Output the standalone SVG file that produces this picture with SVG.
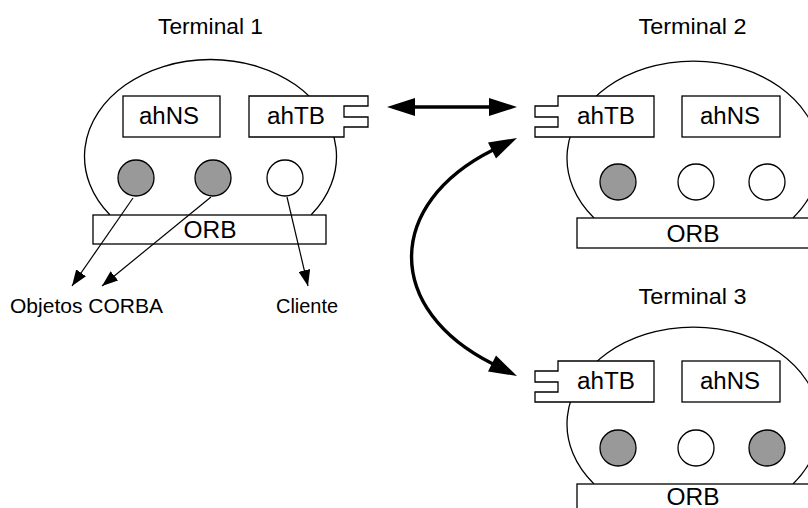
<svg xmlns="http://www.w3.org/2000/svg" width="808" height="508" viewBox="0 0 808 508">
<style>
  .shape { fill: #ffffff; stroke: #000000; stroke-width: 1.3; }
  .body { fill: none; stroke: #000000; stroke-width: 1.3; }
  .obj { fill: #999999; stroke: #000000; stroke-width: 1.3; }
  .cli { fill: #ffffff; stroke: #000000; stroke-width: 1.3; }
  .lbl { font-family: "Liberation Sans", Arial, sans-serif; font-size: 23px; fill: #000000; text-anchor: middle; }
  .note { font-family: "Liberation Sans", Arial, sans-serif; font-size: 21px; fill: #000000; text-anchor: middle; }
  .orb { font-family: "Liberation Sans", Arial, sans-serif; font-size: 24px; fill: #000000; text-anchor: middle; }
  .title { font-family: "Liberation Sans", Arial, sans-serif; font-size: 22px; fill: #000000; text-anchor: middle; }
  .thin { fill: none; stroke: #000000; stroke-width: 1.2; marker-end: url(#ah); }
  .thick { fill: none; stroke: #000000; stroke-width: 3.4; }
  .head { fill: #000000; stroke: none; }
</style>
<defs>
  <marker id="ah" markerUnits="userSpaceOnUse" markerWidth="16" markerHeight="12" refX="16" refY="6" orient="auto">
    <path d="M0,0 L16,6 L0,12 z" fill="#000000"/>
  </marker>
</defs>
<rect width="808" height="508" fill="#ffffff"/>

<g id="terminal1">
  <text class="title" x="210.5" y="34" textLength="105" lengthAdjust="spacingAndGlyphs">Terminal 1</text>
  <path class="body" d="M110,215 A126,97 0 1,1 311,215"/>
  <g id="t1-ahNS">
    <rect class="shape" x="123" y="96" width="97" height="41"/>
    <text class="lbl" x="169" y="124" textLength="60" lengthAdjust="spacingAndGlyphs">ahNS</text>
  </g>
  <g id="t1-ahTB">
    <path class="shape" d="M249,96 H368 V106 H344 V117 H368 V127 H344 V137 H249 Z"/>
    <text class="lbl" x="296" y="124" textLength="58" lengthAdjust="spacingAndGlyphs">ahTB</text>
  </g>
  <circle id="t1-obj1" class="obj" cx="136" cy="178" r="18"/>
  <circle id="t1-obj2" class="obj" cx="213" cy="178" r="18"/>
  <circle id="t1-cli" class="cli" cx="285" cy="178" r="18"/>
  <g id="t1-orb">
    <rect class="shape" x="93" y="215" width="233" height="29"/>
    <text class="orb" x="210" y="238" textLength="53" lengthAdjust="spacingAndGlyphs">ORB</text>
  </g>
</g>

<g id="terminal2">
  <text class="title" x="692.5" y="34" textLength="108" lengthAdjust="spacingAndGlyphs">Terminal 2</text>
  <path class="body" d="M594,218 A126.5,97 0 1,1 793,218"/>
  <g id="t2-ahTB">
    <path class="shape" d="M654,96 H558 V106 H535 V117 H558 V127 H535 V137 H654 Z"/>
    <text class="lbl" x="606" y="124" textLength="58" lengthAdjust="spacingAndGlyphs">ahTB</text>
  </g>
  <g id="t2-ahNS">
    <rect class="shape" x="682" y="96" width="98" height="41"/>
    <text class="lbl" x="730" y="124" textLength="60" lengthAdjust="spacingAndGlyphs">ahNS</text>
  </g>
  <circle id="t2-obj1" class="obj" cx="618" cy="182" r="18"/>
  <circle id="t2-cli1" class="cli" cx="696" cy="182" r="18"/>
  <circle id="t2-cli2" class="cli" cx="767" cy="182" r="18"/>
  <g id="t2-orb">
    <rect class="shape" x="577" y="218" width="240" height="30"/>
    <text class="orb" x="693" y="242" textLength="53" lengthAdjust="spacingAndGlyphs">ORB</text>
  </g>
</g>

<g id="terminal3">
  <text class="title" x="692.5" y="304" textLength="108" lengthAdjust="spacingAndGlyphs">Terminal 3</text>
  <path class="body" d="M594,484 A126.5,97 0 1,1 793,484"/>
  <g id="t3-ahTB">
    <path class="shape" d="M654,361 H558 V371 H535 V382 H558 V392 H535 V402 H654 Z"/>
    <text class="lbl" x="606" y="389" textLength="58" lengthAdjust="spacingAndGlyphs">ahTB</text>
  </g>
  <g id="t3-ahNS">
    <rect class="shape" x="682" y="361" width="98" height="41"/>
    <text class="lbl" x="730" y="389" textLength="60" lengthAdjust="spacingAndGlyphs">ahNS</text>
  </g>
  <circle id="t3-obj1" class="obj" cx="618" cy="448" r="18"/>
  <circle id="t3-cli1" class="cli" cx="696" cy="448" r="18"/>
  <circle id="t3-obj2" class="obj" cx="767" cy="448" r="18"/>
  <g id="t3-orb">
    <rect class="shape" x="577" y="484" width="240" height="30"/>
    <text class="orb" x="693" y="505" textLength="53" lengthAdjust="spacingAndGlyphs">ORB</text>
  </g>
</g>

<g id="label-objetos">
  <text class="note" x="86.5" y="313" textLength="153" lengthAdjust="spacingAndGlyphs">Objetos CORBA</text>
</g>
<g id="label-cliente">
  <text class="note" x="307" y="313" textLength="62" lengthAdjust="spacingAndGlyphs">Cliente</text>
</g>

<g id="connectors">
  <line class="thin" x1="133" y1="198" x2="72" y2="286"/>
  <line class="thin" x1="211" y1="197" x2="102" y2="286"/>
  <line class="thin" x1="287" y1="197" x2="308" y2="286"/>

  <line class="thick" x1="414" y1="107" x2="490" y2="107"/>
  <polygon class="head" points="387,107 415,98 415,116"/>
  <polygon class="head" points="517,107 489,98 489,116"/>

  <path class="thick" d="M493,150 C384.4,204.3 384.4,309.7 493,364"/>
  <polygon class="head" points="517,138 496,158.5 488,142.5"/>
  <polygon class="head" points="517,376 488,371.5 496,355.5"/>
</g>
</svg>
